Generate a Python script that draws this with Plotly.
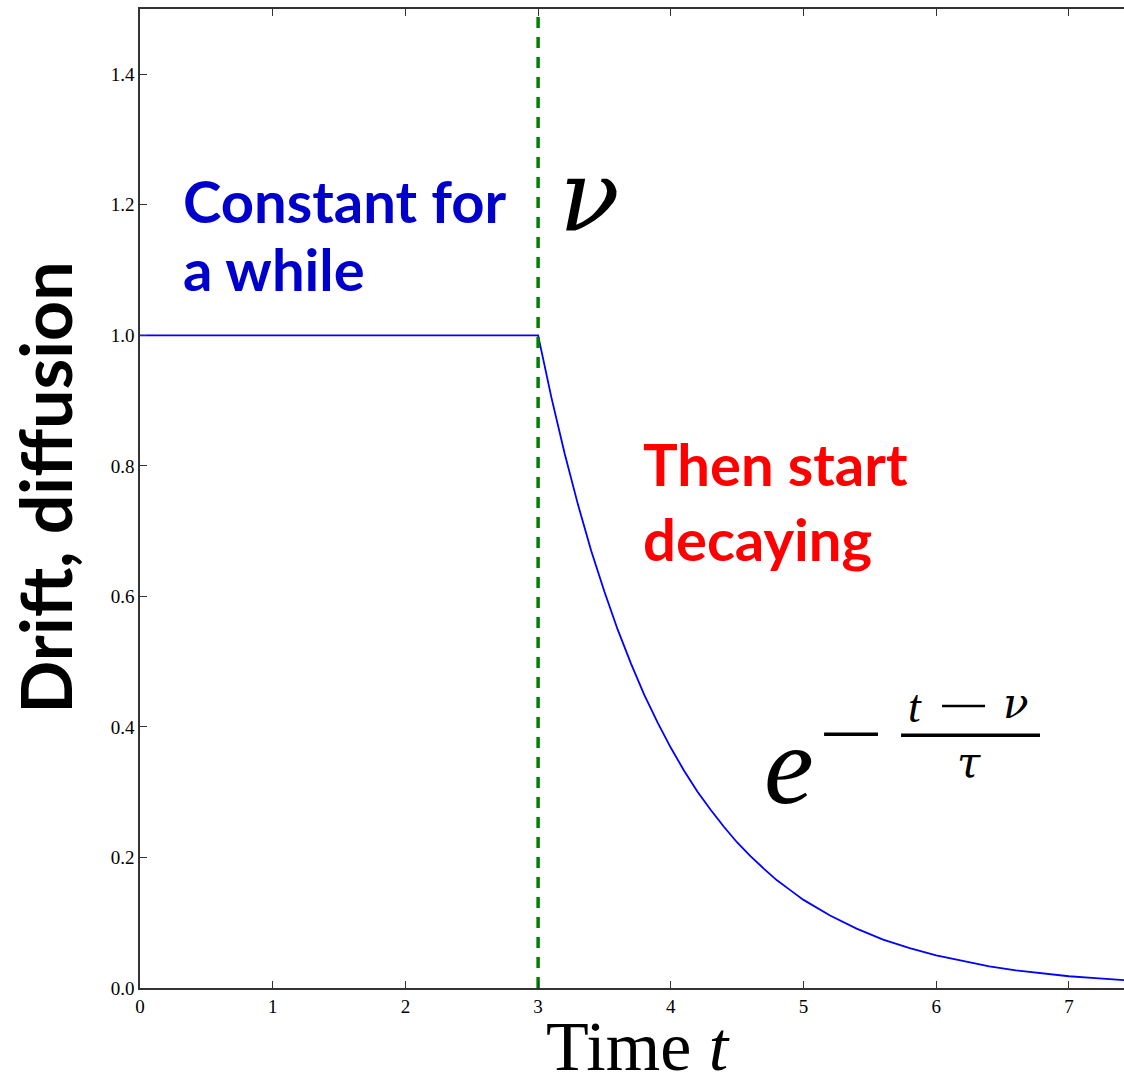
import plotly.graph_objects as go

# ---- data ----
t_vals = [0.0, 3.0, 3.1, 3.2, 3.3, 3.4, 3.5, 3.6, 3.7, 3.8, 3.9, 4.0, 4.1, 4.2,
          4.3, 4.4, 4.5, 4.6, 4.7, 4.8, 4.9, 5.0, 5.2, 5.4, 5.6, 5.8, 6.0, 6.2,
          6.4, 6.6, 6.8, 7.0, 7.2, 7.415]
drift_vals = [1.0, 1.0, 0.905, 0.819, 0.741, 0.670, 0.607, 0.549, 0.497, 0.449,
              0.407, 0.368, 0.333, 0.301, 0.273, 0.247, 0.223, 0.202, 0.183,
              0.165, 0.150, 0.135, 0.111, 0.091, 0.074, 0.061, 0.050, 0.041,
              0.033, 0.027, 0.022, 0.018, 0.015, 0.012]
nu_x = [3.0, 3.0]
nu_y = [0.0, 1.5]
x_ticks = [0, 1, 2, 3, 4, 5, 6, 7]
y_ticks = [0.0, 0.2, 0.4, 0.6, 0.8, 1.0, 1.2, 1.4]
y_tick_labels = ["0.0", "0.2", "0.4", "0.6", "0.8", "1.0", "1.2", "1.4"]

fig = go.Figure()
fig.add_trace(go.Scatter(x=t_vals, y=drift_vals, mode="lines",
                         line=dict(color="#0000ff", width=1.8),
                         showlegend=False, hoverinfo="skip"))
fig.add_trace(go.Scatter(x=nu_x, y=nu_y, mode="lines",
                         line=dict(color="#008000", width=3.5, dash="11px,9px"),
                         showlegend=False, hoverinfo="skip"))

serif = "Liberation Serif"
greek = "DejaVu Serif"
sans = "Lato"

annotations = [
    dict(x=0.309, y=1.207, text="<b>Constant for</b>", xanchor="left", yanchor="middle",
         font=dict(family=sans, size=58, color="#0000cc")),
    dict(x=0.309, y=1.103, text="<b>a while</b>", xanchor="left", yanchor="middle",
         font=dict(family=sans, size=58, color="#0000cc")),
    dict(x=3.775, y=0.804, text="<b>Then start</b>", xanchor="left", yanchor="middle",
         font=dict(family=sans, size=58, color="#ff0000")),
    dict(x=3.775, y=0.688, text="<b>decaying</b>", xanchor="left", yanchor="middle",
         font=dict(family=sans, size=58, color="#ff0000")),
    dict(x=3.384, y=1.215, text="<i>ν</i>", xanchor="center", yanchor="middle",
         font=dict(family=greek, size=100, color="black")),
    dict(x=4.891, y=0.341, text="<i>e</i>", xanchor="center", yanchor="middle",
         font=dict(family=serif, size=112, color="black")),
    dict(x=5.840, y=0.432, text="<i>t</i>", xanchor="center", yanchor="middle",
         font=dict(family=serif, size=46, color="black")),
    dict(x=6.601, y=0.436, text="<i>ν</i>", xanchor="center", yanchor="middle",
         font=dict(family=greek, size=42, color="black")),
    dict(x=6.247, y=0.345, text="<i>τ</i>", xanchor="center", yanchor="middle",
         font=dict(family=greek, size=42, color="black")),
    dict(x=-0.0965, y=0.511, xref="paper", yref="paper", text="<b>Drift, diffusion</b>",
         textangle=-90, xanchor="center", yanchor="middle",
         font=dict(family=sans, size=70, color="black")),
    dict(x=0.506, y=-0.060, xref="paper", yref="paper", text="Time <i>t</i>",
         xanchor="center", yanchor="middle",
         font=dict(family=serif, size=70, color="black")),
]
for a in annotations:
    a.setdefault("xref", "x")
    a.setdefault("yref", "y")
    a["showarrow"] = False

shapes = [
    dict(type="line", xref="x", yref="y", x0=5.155, x1=5.561, y0=0.3887, y1=0.3887,
         line=dict(color="black", width=3.5)),
    dict(type="line", xref="x", yref="y", x0=5.735, x1=6.782, y0=0.3872, y1=0.3872,
         line=dict(color="black", width=3.5)),
    dict(type="line", xref="x", yref="y", x0=6.044, x1=6.368, y0=0.432, y1=0.432,
         line=dict(color="black", width=2.5)),
]

fig.update_layout(
    width=1124, height=1073,
    margin=dict(l=140, r=0, t=9, b=85),
    paper_bgcolor="white", plot_bgcolor="white",
    annotations=annotations, shapes=shapes,
    showlegend=False,
)
fig.update_xaxes(range=[0, 7.415], tickvals=x_ticks, ticktext=[str(v) for v in x_ticks],
                 showgrid=False, zeroline=False, showline=True, linecolor="#333333",
                 linewidth=1.5, mirror="ticks", ticks="inside", ticklen=7, tickwidth=1,
                 tickcolor="#333333", tickfont=dict(family=serif, size=19, color="black"))
fig.update_yaxes(range=[0, 1.5], tickvals=y_ticks, ticktext=y_tick_labels,
                 showgrid=False, zeroline=False, showline=True, linecolor="#333333",
                 linewidth=1.5, mirror=False, ticks="inside", ticklen=7, tickwidth=1,
                 tickcolor="#333333", tickfont=dict(family=serif, size=19, color="black"))

fig.write_html("out.html")
